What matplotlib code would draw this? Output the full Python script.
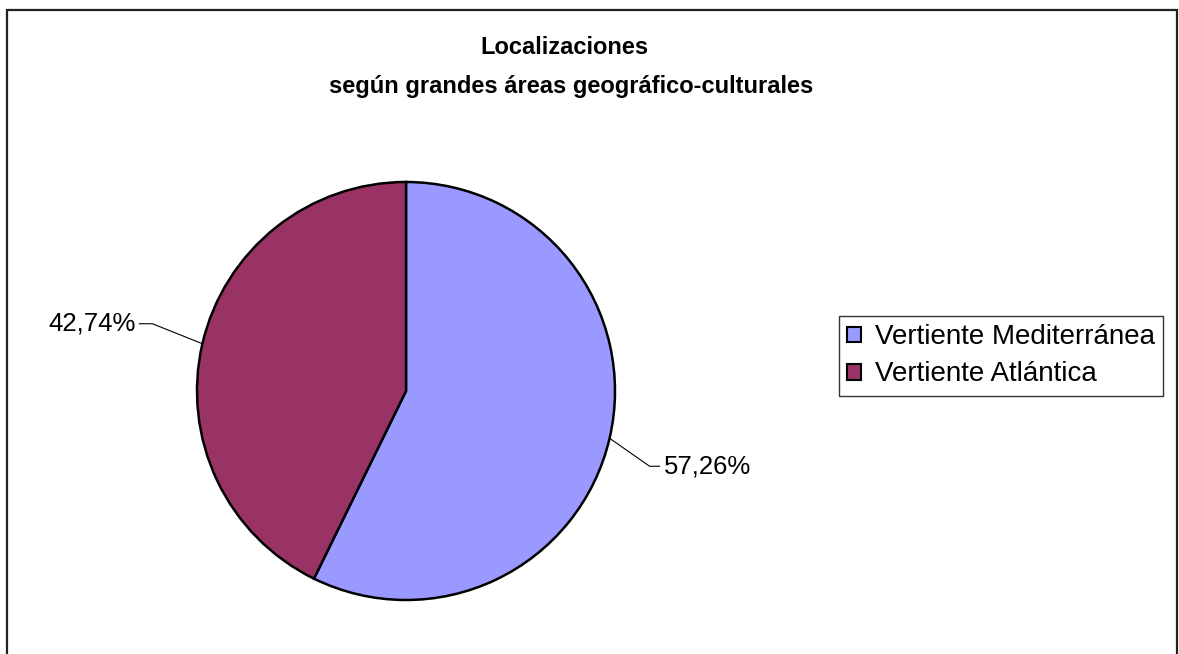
import matplotlib
matplotlib.use("Agg")
import matplotlib.pyplot as plt
import numpy as np
from matplotlib.patches import Rectangle, Patch

categories = ["Vertiente Mediterránea", "Vertiente Atlántica"]
values = [57.26, 42.74]
labels = ["57,26%", "42,74%"]
colors = ["#9999FF", "#993366"]
title_lines = ["Localizaciones", "según grandes áreas geográfico-culturales"]

W, H = 1179, 654
plt.rcParams['font.family'] = ['Liberation Sans', 'DejaVu Sans']
fig = plt.figure(figsize=(W / 100, H / 100), dpi=100)
ax = fig.add_axes([0, 0, 1, 1])

# outer chart border
fig.patches.append(Rectangle((7 / W, -0.05), (1177 - 7) / W, (H - 10) / H + 0.05,
                             transform=fig.transFigure, fill=False,
                             edgecolor='#222222', linewidth=1.6))

cx, cy, r = 406, H - 391, 209
wedges, _ = ax.pie(values, colors=colors, startangle=90, counterclock=False,
                   center=(cx, cy), radius=r, frame=True,
                   wedgeprops=dict(edgecolor='black', linewidth=1.8))
ax.set_xlim(0, W)
ax.set_ylim(0, H)
ax.set_aspect('equal')
ax.axis('off')

# labels with leader lines
offsets = [((40, -28), (10, 0), 'left'), ((-50, 20), (-13, 0), 'right')]
for w, lab, (d1, d2, ha) in zip(wedges, labels, offsets):
    ang = np.deg2rad((w.theta1 + w.theta2) / 2)
    x0, y0 = cx + r * np.cos(ang), cy + r * np.sin(ang)
    x1, y1 = x0 + d1[0], y0 + d1[1]
    x2, y2 = x1 + d2[0], y1 + d2[1]
    ax.plot([x0, x1, x2], [y0, y1, y2], color='black', linewidth=0.8)
    tx = x2 + (4 if ha == 'left' else -4)
    ax.text(tx, y2, lab, ha=ha, va='center', fontsize=18.5)

fig.text(564 / W, 1 - 47 / H, title_lines[0], ha='center', va='center',
         fontsize=17, fontweight='bold')
fig.text(571 / W, 1 - 86 / H, title_lines[1],
         ha='center', va='center', fontsize=17, fontweight='bold')

handles = [Patch(facecolor=c, edgecolor='black', linewidth=1.5) for c in colors]
leg = fig.legend(handles, categories, loc='upper left',
                 bbox_to_anchor=(839 / W, 1 - 316 / H), fontsize=20,
                 frameon=True, fancybox=False, borderpad=0.3,
                 handlelength=0.5, handleheight=0.5, handletextpad=0.5,
                 labelspacing=0.4, borderaxespad=0)
leg.get_frame().set_edgecolor('black')
leg.get_frame().set_linewidth(1.0)

fig.savefig("out.png", dpi=100)
